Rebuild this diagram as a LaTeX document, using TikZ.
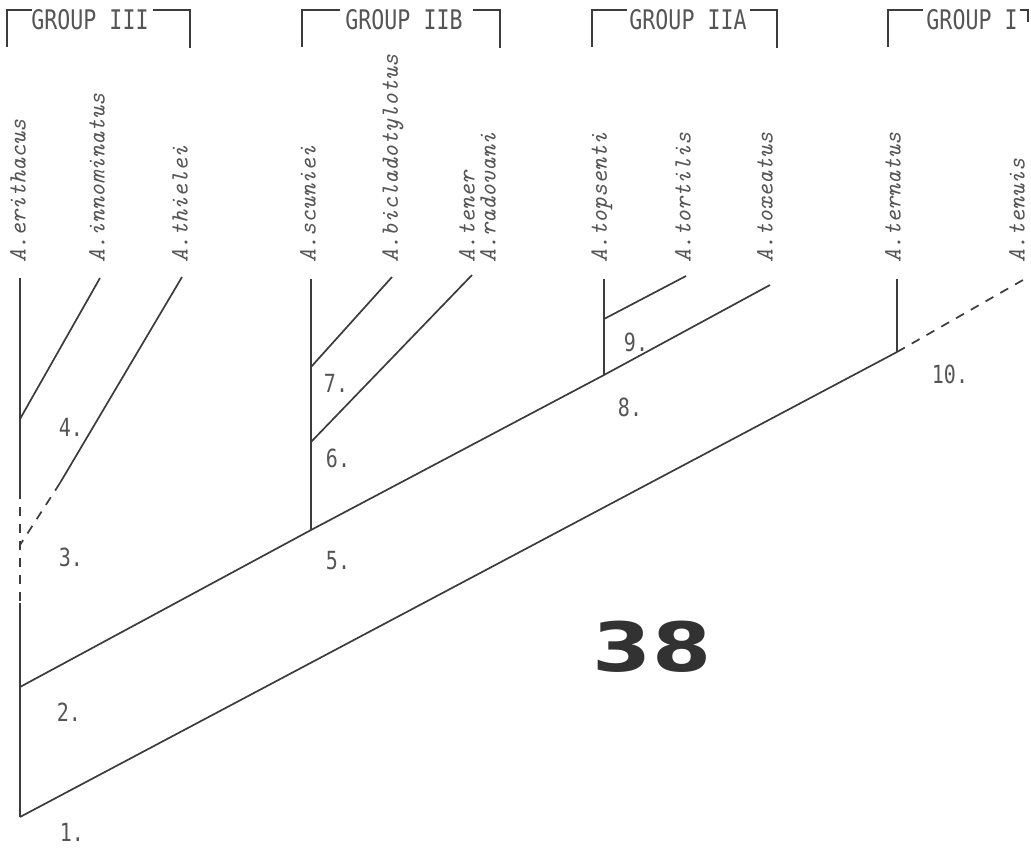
\documentclass[tikz,border=0pt]{standalone}
\usepackage{fontspec}
\newfontfamily\hdrfont[FakeStretch=0.8]{DejaVu Sans Mono}
\newfontfamily\bigfont{DejaVu Sans}
\definecolor{lc}{RGB}{60,60,60}
\definecolor{tc}{RGB}{85,85,85}
\definecolor{bc}{RGB}{50,50,50}
\begin{document}
\begin{tikzpicture}[x=1pt,y=-1pt,
  branch/.style={line width=1.7pt, draw=lc},
  dashbranch/.style={branch, dash pattern=on 9pt off 8pt},
  brk/.style={line width=1.2pt, draw=lc},
  hdr/.style={font=\hdrfont\fontsize{27}{27}\selectfont, text=tc, inner sep=0},
  sp/.style={font=\ttfamily\itshape\fontsize{24.8}{26}\selectfont, text=tc, rotate=90, anchor=west, inner sep=0},
  num/.style={font=\hdrfont\fontsize{25}{25}\selectfont, text=tc, inner sep=0}]
\useasboundingbox (0,0) rectangle (1031,847);
% group headers
\node[hdr] (g3) at (90,20) {GROUP III};
\node[hdr] (g2b) at (404,20) {GROUP IIB};
\node[hdr] (g2a) at (688,20) {GROUP IIA};
\node[hdr] (g1) at (972,20) {GROUP I};
\draw[brk] (7,47) |- (32,10);
\draw[brk] (153,10) -| (190,48);
\draw[brk] (302,47) |- (340,10);
\draw[brk] (473,10) -| (500,48);
\draw[brk] (592,47) |- (627,10);
\draw[brk] (750,10) -| (777,48);
\draw[brk] (888,47) |- (923,10);
\draw[brk] (1020,10) -| (1028,22);
% species
\node[sp] (erith) at (18,263) {A.erithacus};
\node[sp] (innom) at (97,263) {A.innominatus};
\node[sp] (thiel) at (180,263) {A.thielei};
\node[sp] (scun) at (308,263) {A.scuniei};
\node[sp] (bicl) at (393,263) {A.bicladotylotus};
\node[sp] (tener) at (467,263) {A.tener};
\node[sp] (radov) at (488,263) {A.radovani};
\node[sp] (tops) at (602,263) {A.topsenti};
\node[sp] (tort) at (683,263) {A.tortilis};
\node[sp] (toxe) at (765,263) {A.toxeatus};
\node[sp] (tern) at (893,263) {A.ternatus};
\node[sp] (tenu) at (1017,263) {A.tenuis};
% tree nodes
\coordinate (n1) at (20,817);
\coordinate (n2) at (20,687);
\coordinate (n3) at (20,545);
\coordinate (n4) at (20,419);
\coordinate (n5) at (311,530);
\coordinate (n6) at (311,442);
\coordinate (n7) at (311,367);
\coordinate (n8) at (604,375);
\coordinate (n9) at (604,319);
\coordinate (n10) at (897,352);
% tips
\coordinate (terith) at (20,278);
\coordinate (tinnom) at (100,278);
\coordinate (tthiel) at (182,277);
\coordinate (tscun) at (311,279);
\coordinate (tbicl) at (392,277);
\coordinate (tten) at (472,275);
\coordinate (ttops) at (604,279);
\coordinate (ttort) at (686,276);
\coordinate (ttox) at (770,285);
\coordinate (ttern) at (897,279);
\coordinate (ttenu) at (1023,280);
\coordinate (thb) at (60,483);
\coordinate (tb1) at (20,490);
\coordinate (tb2) at (20,603);
% branches
\draw[branch] (terith) -- (tb1);
\draw[dashbranch] (tb1) -- (tb2);
\draw[branch] (tb2) -- (n1);
\draw[branch] (n4) -- (tinnom);
\draw[branch] (tthiel) -- (thb);
\draw[dashbranch] (thb) -- (n3);
\draw[branch] (n2) -- (n5) -- (n8) -- (ttox);
\draw[branch] (n1) -- (n10);
\draw[branch] (n10) -- (ttern);
\draw[dashbranch] (n10) -- (ttenu);
\draw[branch] (n5) -- (tscun);
\draw[branch] (n6) -- (tten);
\draw[branch] (n7) -- (tbicl);
\draw[branch] (n8) -- (ttops);
\draw[branch] (n9) -- (ttort);
% labels
\node[num] (l1) at (72,832) {1.};
\node[num] (l2) at (69,712) {2.};
\node[num] (l3) at (71,557) {3.};
\node[num] (l4) at (71,427) {4.};
\node[num] (l5) at (338,561) {5.};
\node[num] (l6) at (338,458) {6.};
\node[num] (l7) at (336,383) {7.};
\node[num] (l8) at (630,407) {8.};
\node[num] (l9) at (636,342) {9.};
\node[num] (l10) at (950,374) {10.};
\node[font=\bigfont\bfseries\fontsize{68}{68}\selectfont, text=bc, xscale=1.25, inner sep=0] (fig) at (652,647) {38};
\end{tikzpicture}
\end{document}
